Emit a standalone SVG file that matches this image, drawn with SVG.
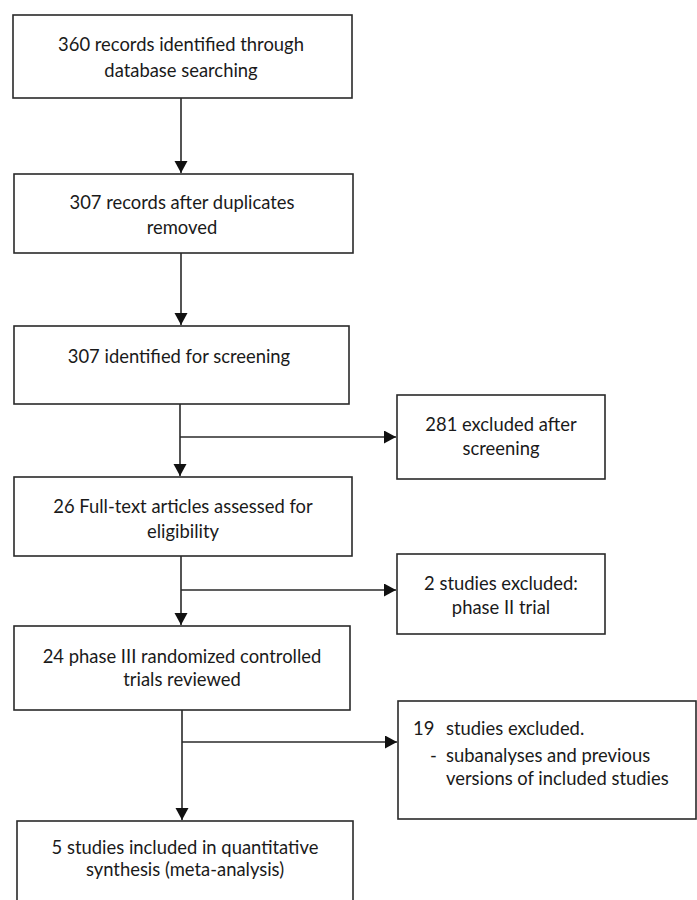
<svg xmlns="http://www.w3.org/2000/svg" width="697" height="900" viewBox="0 0 697 900">
<style>
.box{fill:#fff;stroke:#2a2a2a;stroke-width:1.6}
.t{font-family:Lato,"Liberation Sans",sans-serif;font-size:18.4px;fill:#1a1a1a;text-anchor:middle}
.l{font-family:Lato,"Liberation Sans",sans-serif;font-size:18.4px;fill:#1a1a1a}
.c{stroke:#2a2a2a;stroke-width:1.6;fill:none}
</style>
<defs>
<marker id="ah" markerWidth="14" markerHeight="14" refX="12" refY="6.5" orient="auto" markerUnits="userSpaceOnUse">
<path d="M0,0 L12,6.5 L0,13 Z" fill="#111"/>
</marker>
</defs>
<rect width="697" height="900" fill="#fff"/>
<g id="connectors">
<line class="c" x1="181" y1="98" x2="181" y2="173" marker-end="url(#ah)"/>
<line class="c" x1="181" y1="253" x2="181" y2="325" marker-end="url(#ah)"/>
<line class="c" x1="180" y1="404" x2="180" y2="476" marker-end="url(#ah)"/>
<line class="c" x1="180" y1="437" x2="396" y2="437" marker-end="url(#ah)"/>
<line class="c" x1="181" y1="556" x2="181" y2="625" marker-end="url(#ah)"/>
<line class="c" x1="181" y1="590" x2="396" y2="590" marker-end="url(#ah)"/>
<line class="c" x1="182" y1="710" x2="182" y2="820" marker-end="url(#ah)"/>
<line class="c" x1="182" y1="742" x2="397" y2="742" marker-end="url(#ah)"/>
</g>
<g id="n1">
<rect class="box" x="13" y="15" width="339" height="83"/>
<text class="t" x="181" y="51">360 records identified through</text>
<text class="t" x="181" y="77">database searching</text>
</g>
<g id="n2">
<rect class="box" x="14" y="174" width="339" height="79"/>
<text class="t" x="182" y="209">307 records after duplicates</text>
<text class="t" x="182" y="234">removed</text>
</g>
<g id="n3">
<rect class="box" x="14" y="326" width="335" height="78"/>
<text class="t" x="179" y="363">307 identified for screening</text>
</g>
<g id="n4">
<rect class="box" x="397" y="395" width="208" height="84"/>
<text class="t" x="501" y="431">281 excluded after</text>
<text class="t" x="501" y="455">screening</text>
</g>
<g id="n5">
<rect class="box" x="14" y="477" width="338" height="79"/>
<text class="t" x="183" y="513">26 Full-text articles assessed for</text>
<text class="t" x="183" y="538">eligibility</text>
</g>
<g id="n6">
<rect class="box" x="397" y="554" width="208" height="80"/>
<text class="t" x="501" y="590">2 studies excluded:</text>
<text class="t" x="501" y="614">phase II trial</text>
</g>
<g id="n7">
<rect class="box" x="14" y="626" width="336" height="84"/>
<text class="t" x="182" y="663">24 phase III randomized controlled</text>
<text class="t" x="182" y="686">trials reviewed</text>
</g>
<g id="n8">
<rect class="box" x="398" y="701" width="298" height="118"/>
<text class="l" x="413" y="735">19</text>
<text class="l" x="446" y="735">studies excluded.</text>
<text class="l" x="430" y="762">-</text>
<text class="l" x="446" y="762">subanalyses and previous</text>
<text class="l" x="446" y="785">versions of included studies</text>
</g>
<g id="n9">
<rect class="box" x="17" y="821" width="336" height="90"/>
<text class="t" x="185" y="854">5 studies included in quantitative</text>
<text class="t" x="185" y="876">synthesis (meta-analysis)</text>
</g>
</svg>
